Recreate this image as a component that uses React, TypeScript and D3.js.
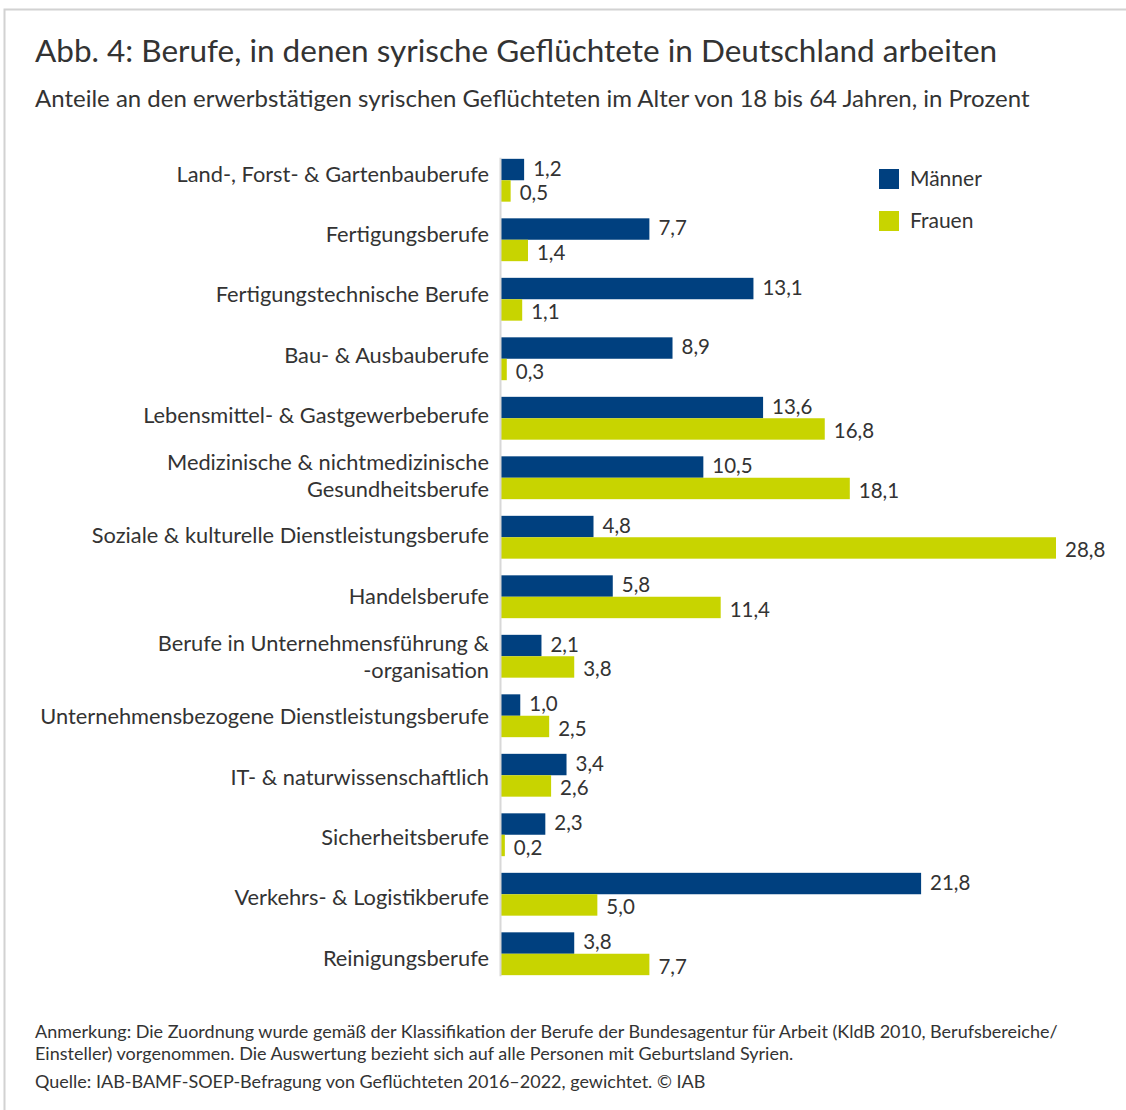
import React from "react";
import * as d3 from "d3";

const categories: string[][] = [
  ["Land-, Forst- & Gartenbauberufe"],
  ["Fertigungsberufe"],
  ["Fertigungstechnische Berufe"],
  ["Bau- & Ausbauberufe"],
  ["Lebensmittel- & Gastgewerbeberufe"],
  ["Medizinische & nichtmedizinische", "Gesundheitsberufe"],
  ["Soziale & kulturelle Dienstleistungsberufe"],
  ["Handelsberufe"],
  ["Berufe in Unternehmensführung &", "-organisation"],
  ["Unternehmensbezogene Dienstleistungsberufe"],
  ["IT- & naturwissenschaftlich"],
  ["Sicherheitsberufe"],
  ["Verkehrs- & Logistikberufe"],
  ["Reinigungsberufe"],
];
const maenner: number[] = [1.2, 7.7, 13.1, 8.9, 13.6, 10.5, 4.8, 5.8, 2.1, 1.0, 3.4, 2.3, 21.8, 3.8];
const frauen: number[] = [0.5, 1.4, 1.1, 0.3, 16.8, 18.1, 28.8, 11.4, 3.8, 2.5, 2.6, 0.2, 5.0, 7.7];
const seriesNames = ["Männer", "Frauen"];
const colors = ["#00407f", "#c8d400"];

const title = "Abb. 4: Berufe, in denen syrische Geflüchtete in Deutschland arbeiten";
const subtitle = "Anteile an den erwerbstätigen syrischen Geflüchteten im Alter von 18 bis 64 Jahren, in Prozent";
const notes = [
  "Anmerkung: Die Zuordnung wurde gemäß der Klassifikation der Berufe der Bundesagentur für Arbeit (KldB 2010, Berufsbereiche/",
  "Einsteller) vorgenommen. Die Auswertung bezieht sich auf alle Personen mit Geburtsland Syrien.",
];
const source = "Quelle: IAB-BAMF-SOEP-Befragung von Geflüchteten 2016–2022, gewichtet. © IAB";

const W = 1126;
const H = 1110;
const FONT = "Lato, 'Source Sans Pro', 'Noto Sans', sans-serif";
const TEXT = "#333333";

export default function App() {
  const x0 = 501;
  const x = d3.scaleLinear().domain([0, 28.8]).range([x0, 1056]);
  const idx = categories.map((_, i) => String(i));
  const y = d3.scaleBand().domain(idx).range([150.5, 983.5]).paddingInner(0.28).paddingOuter(0.14);
  const yl = d3.scalePoint().domain(idx).range([174, 958]);
  const bw = y.bandwidth();
  const barH = bw / 2;
  const fmt = (v: number) => d3.format(".1f")(v).replace(".", ",");
  const values = [maenner, frauen];
  const labelShift = [-1, 2];

  return (
    <svg width={W} height={H} style={{ position: "absolute", left: 0, top: 0, background: "#fff" }} fontFamily={FONT}>
      <rect x={0} y={0} width={W} height={H} fill="#fff" />
      <path d={`M4.5,${H} V9.5 H${W}`} fill="none" stroke="#d2d2d2" strokeWidth={2} />
      <text x={35} y={62} fontSize={31.5} fill={TEXT}>{title}</text>
      <text x={35} y={107} fontSize={24} fill={TEXT}>{subtitle}</text>

      {categories.map((lines, i) => {
        const yc = yl(String(i)) as number;
        return (
          <g key={i}>
            {lines.map((ln, j) => (
              <text
                key={j}
                x={489}
                y={yc + (j - (lines.length - 1) / 2) * 27}
                dy="0.35em"
                textAnchor="end"
                fontSize={21.8}
                fill={TEXT}
              >
                {ln}
              </text>
            ))}
            {values.map((vals, s) => {
              const yt = (y(String(i)) as number) + s * barH;
              return (
                <g key={s}>
                  <rect x={x0} y={yt} width={x(vals[i]) - x0} height={barH} fill={colors[s]} />
                  <text x={x(vals[i]) + 9} y={yt + barH / 2 + labelShift[s]} dy="0.35em" fontSize={20.5} fill={TEXT}>
                    {fmt(vals[i])}
                  </text>
                </g>
              );
            })}
          </g>
        );
      })}
      <line
        x1={x0 - 0.5}
        x2={x0 - 0.5}
        y1={(y("0") as number) - 1}
        y2={(y(String(categories.length - 1)) as number) + bw + 1}
        stroke="#d8d8d8"
        strokeWidth={2}
      />

      {seriesNames.map((n, s) => (
        <g key={n}>
          <rect x={879} y={169 + s * 42} width={20} height={20} fill={colors[s]} />
          <text x={910} y={179 + s * 42} dy="0.35em" fontSize={21} fill={TEXT}>{n}</text>
        </g>
      ))}

      {notes.map((t, i) => (
        <text key={i} x={35} y={1038 + i * 22} fontSize={18} fill={TEXT}>{t}</text>
      ))}
      <text x={35} y={1088} fontSize={18} fill={TEXT}>{source}</text>
    </svg>
  );
}
